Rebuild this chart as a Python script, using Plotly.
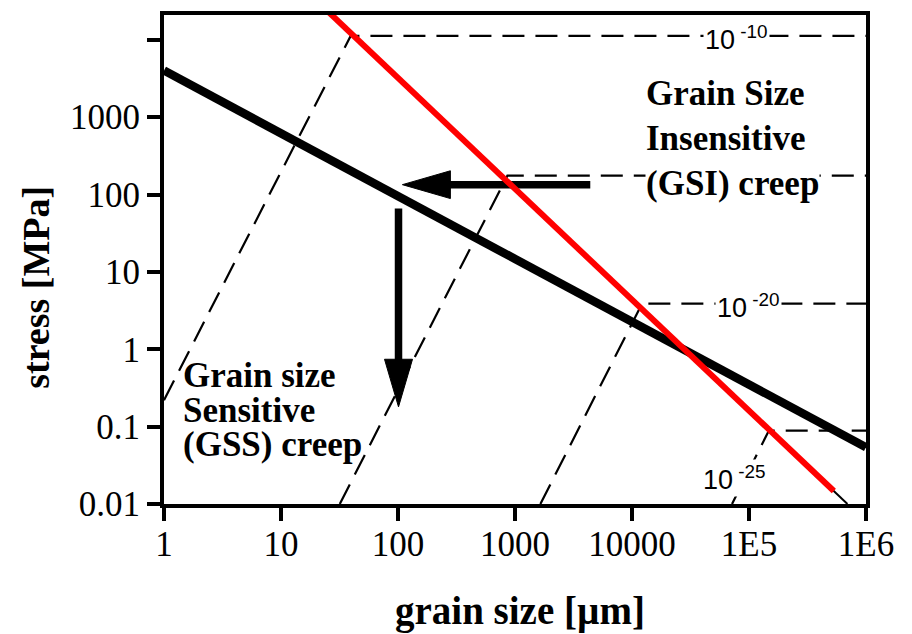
import numpy as np
import plotly.graph_objects as go

# ---------------------------------------------------------------------------
# Axis ticks
# ---------------------------------------------------------------------------
X_TICKS = [1, 10, 100, 1000, 10000, 1e5, 1e6]
X_TICK_TEXT = ["1", "10", "100", "1000", "10000", "1E5", "1E6"]
Y_TICKS = [0.01, 0.1, 1, 10, 100, 1000]
Y_TICK_TEXT = ["0.01", "0.1", "1", "10", "100", "1000"]
Y_UNLABELLED_TICKS = [10000]

# ---------------------------------------------------------------------------
# Curves (grain size in um, stress in MPa)
# ---------------------------------------------------------------------------
# paleopiezometer (thick black)
PIEZO_D = [1, 1e6]
PIEZO_S = [4000, 0.054]

# GSS / GSI field boundary (red) and its thin continuation
BOUNDARY_D = [24, 5.31e5]
BOUNDARY_S = [2.49e4, 0.0147]
BOUNDARY_EXT_D = [24, 6.94e5]
BOUNDARY_EXT_S = [2.49e4, 0.01]

# strain-rate contours: GSS branch start, corner on boundary, GSI branch end
RATE_1E10_D = [1, 39.4, 1e6]
RATE_1E10_S = [0.22, 1.12e4, 1.12e4]
RATE_1E15_D = [31.8, 861, 1e6]
RATE_1E15_S = [0.01, 175, 175]
RATE_1E20_D = [1648, 12200, 1e6]
RATE_1E20_S = [0.01, 3.89, 3.89]
RATE_1E25_D = [71600, 148000, 1e6]
RATE_1E25_S = [0.01, 0.089, 0.089]

# arrows (tail, tip)
ARROW_H_D = [4400, 109]
ARROW_H_S = [134, 134]
ARROW_V_D = [101, 101]
ARROW_V_S = [66, 0.18]

# ---------------------------------------------------------------------------
# Layout geometry
# ---------------------------------------------------------------------------
W, H = 912, 634
M_L, M_R, M_T, M_B = 164, 46, 11, 130
X_RANGE = [0, 6]
Y_RANGE = [-2, 4.32]
PLOT_W = W - M_L - M_R
PLOT_H = H - M_T - M_B
X_PPD = PLOT_W / (X_RANGE[1] - X_RANGE[0])   # pixels per decade
Y_PPD = PLOT_H / (Y_RANGE[1] - Y_RANGE[0])

SERIF = "Liberation Serif"
SANS = "Liberation Sans"


def px_to_paper(px, py):
    return (px - M_L) / PLOT_W, (H - M_B - py) / PLOT_H


def arrow_parts(d, s, head_len=48, head_half=14):
    """Shaft and filled head for an arrow drawn on log-log axes."""
    x0, x1 = np.log10(d)
    y0, y1 = np.log10(s)
    dx = (x1 - x0) * X_PPD
    dy = (y1 - y0) * Y_PPD
    length = np.hypot(dx, dy)
    ux, uy = dx / length, dy / length
    bx = x1 - ux * head_len / X_PPD
    by = y1 - uy * head_len / Y_PPD
    nx, ny = -uy, ux
    cx1 = bx + nx * head_half / X_PPD
    cy1 = by + ny * head_half / Y_PPD
    cx2 = bx - nx * head_half / X_PPD
    cy2 = by - ny * head_half / Y_PPD
    shaft_x = [x0, bx + ux * 3 / X_PPD]
    shaft_y = [y0, by + uy * 3 / Y_PPD]
    head_x = [x1, cx1, cx2, x1]
    head_y = [y1, cy1, cy2, y1]
    p = lambda v: list(10 ** np.asarray(v))
    return (p(shaft_x), p(shaft_y)), (p(head_x), p(head_y))


fig = go.Figure()

dash = dict(color="black", width=2.2, dash="22px,11px")
for d, s in [(RATE_1E10_D, RATE_1E10_S), (RATE_1E15_D, RATE_1E15_S),
             (RATE_1E20_D, RATE_1E20_S), (RATE_1E25_D, RATE_1E25_S)]:
    fig.add_trace(go.Scatter(x=d, y=s, mode="lines", line=dash, hoverinfo="skip"))

fig.add_trace(go.Scatter(x=BOUNDARY_EXT_D, y=BOUNDARY_EXT_S, mode="lines",
                         line=dict(color="black", width=2), hoverinfo="skip"))

fig.add_trace(go.Scatter(x=PIEZO_D, y=PIEZO_S, mode="lines",
                         line=dict(color="black", width=8.5), hoverinfo="skip"))

for d, s in [(ARROW_H_D, ARROW_H_S), (ARROW_V_D, ARROW_V_S)]:
    (sx, sy), (hx, hy) = arrow_parts(d, s)
    fig.add_trace(go.Scatter(x=sx, y=sy, mode="lines",
                             line=dict(color="black", width=7.5), hoverinfo="skip"))
    fig.add_trace(go.Scatter(x=hx, y=hy, mode="lines", fill="toself",
                             fillcolor="black", line=dict(color="black", width=1),
                             hoverinfo="skip"))

fig.add_trace(go.Scatter(x=BOUNDARY_D, y=BOUNDARY_S, mode="lines",
                         line=dict(color="#ff0000", width=6), hoverinfo="skip"))

annotations = []

# strain-rate labels (log10 coordinates on log axes)
label_font = dict(family=SANS, size=27, color="black")
for text, d, s, yshift in [("10<sup> -10</sup>", 7.76e4, RATE_1E10_S[-1], -2),
                           ("10<sup> -20</sup>", 9.9e4, RATE_1E20_S[-1], -2),
                           ("10<sup> -25</sup>", 7.45e4, 0.0229, -2)]:
    annotations.append(dict(x=np.log10(d), y=np.log10(s), xref="x", yref="y",
                            text=text, showarrow=False, font=label_font,
                            bgcolor="white", borderpad=1, yshift=yshift,
                            xanchor="center", yanchor="middle"))

# field names
field_font = dict(family=SERIF, size=35, color="black")
for text, px, py, bg in [("Grain Size", 645, 90, None),
                         ("Insensitive", 645, 136, None),
                         ("(GSI) creep", 645, 181, "white"),
                         ("Grain size", 182, 374, None),
                         ("Sensitive", 182, 410, None),
                         ("(GSS) creep", 182, 444, None)]:
    ax_, ay_ = px_to_paper(px, py)
    a = dict(x=ax_, y=ay_, xref="paper", yref="paper", text="<b>%s</b>" % text,
             showarrow=False, font=field_font, xanchor="left", yanchor="middle",
             borderpad=0)
    if bg:
        a["bgcolor"] = bg
    annotations.append(a)

# axis titles
tx, ty = px_to_paper(520, 612)
annotations.append(dict(x=tx, y=ty, xref="paper", yref="paper",
                        text="<b>grain size [µm]</b>", showarrow=False,
                        font=dict(family=SERIF, size=39, color="black"),
                        xanchor="center", yanchor="middle"))
tx, ty = px_to_paper(36, 286)
annotations.append(dict(x=tx, y=ty, xref="paper", yref="paper",
                        text="<b>stress [MPa]</b>", showarrow=False, textangle=-90,
                        font=dict(family=SERIF, size=38, color="black"),
                        xanchor="center", yanchor="middle"))

axis_common = dict(type="log", showgrid=False, zeroline=False, showline=True,
                   linecolor="black", linewidth=4, mirror=True, ticks="outside",
                   ticklen=13, tickwidth=4, tickcolor="black",
                   tickfont=dict(family=SERIF, size=35, color="black"))

fig.update_layout(
    width=W, height=H,
    margin=dict(l=M_L, r=M_R, t=M_T, b=M_B, pad=0),
    plot_bgcolor="white", paper_bgcolor="white",
    showlegend=False,
    font=dict(family=SERIF, color="black"),
    xaxis=dict(range=X_RANGE, tickvals=X_TICKS, ticktext=X_TICK_TEXT,
               ticklabelstandoff=-7, **axis_common),
    yaxis=dict(range=Y_RANGE, tickvals=Y_TICKS, ticktext=Y_TICK_TEXT,
               minor=dict(tickmode="array", tickvals=Y_UNLABELLED_TICKS,
                          ticks="outside", ticklen=13, tickwidth=4,
                          tickcolor="black", showgrid=False),
               **axis_common),
    annotations=annotations,
)

fig.write_html("out.html")
